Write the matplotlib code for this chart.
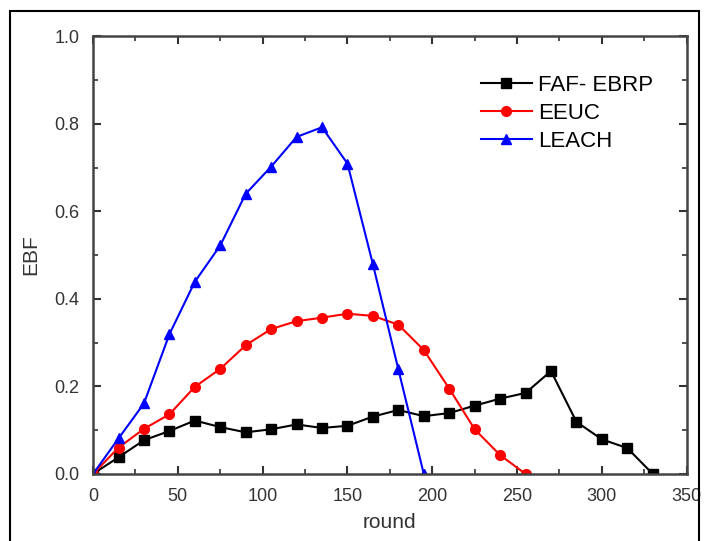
import matplotlib.pyplot as plt
from matplotlib.patches import Rectangle
from matplotlib.ticker import MultipleLocator

plt.rcParams['font.family'] = ['Liberation Sans', 'DejaVu Sans']

# dados
rounds_faf = [0, 15, 30, 45, 60, 75, 90, 105, 120, 135, 150, 165, 180, 195, 210, 225, 240, 255, 270, 285, 300, 315, 330]
ebf_faf = [0.0, 0.038, 0.077, 0.098, 0.122, 0.107, 0.095, 0.102, 0.113, 0.105, 0.110, 0.131, 0.146, 0.132, 0.139, 0.156, 0.172, 0.185, 0.235, 0.119, 0.079, 0.059, 0.0]

rounds_eeuc = [0, 15, 30, 45, 60, 75, 90, 105, 120, 135, 150, 165, 180, 195, 210, 225, 240, 255]
ebf_eeuc = [0.0, 0.060, 0.103, 0.136, 0.199, 0.240, 0.294, 0.331, 0.349, 0.357, 0.366, 0.361, 0.341, 0.283, 0.195, 0.102, 0.043, 0.0]

rounds_leach = [0, 15, 30, 45, 60, 75, 90, 105, 120, 135, 150, 165, 180, 195]
ebf_leach = [0.0, 0.081, 0.161, 0.319, 0.439, 0.522, 0.640, 0.702, 0.770, 0.792, 0.709, 0.479, 0.239, 0.0]

fig = plt.figure(figsize=(7.05, 5.41), dpi=100)
ax = fig.add_axes([0.132, 0.124, 0.842, 0.809])

# moldura externa
fig.patches.append(Rectangle((10 / 705, -0.05), 689 / 705, 1 - 11 / 541 + 0.05,
                             transform=fig.transFigure, fill=False,
                             edgecolor='black', linewidth=1.5))

ax.plot(rounds_faf, ebf_faf, '-s', color='black', lw=1.5, ms=6.5, label='FAF- EBRP')
ax.plot(rounds_eeuc, ebf_eeuc, '-o', color='#ff0000', lw=1.5, ms=7, label='EEUC')
ax.plot(rounds_leach, ebf_leach, '-^', color='#0000ff', lw=1.5, ms=7.5, label='LEACH')

ax.set_xlim(0, 350)
ax.set_ylim(0, 1.0)
ax.xaxis.set_major_locator(MultipleLocator(50))
ax.xaxis.set_minor_locator(MultipleLocator(25))
ax.yaxis.set_major_locator(MultipleLocator(0.2))
ax.yaxis.set_minor_locator(MultipleLocator(0.1))
ax.yaxis.set_major_formatter(plt.FormatStrFormatter('%.1f'))

ax.tick_params(which='both', direction='in', top=True, right=True, labelsize=13, colors='#333333')
ax.tick_params(which='major', length=6, width=1.5, pad=10)
ax.tick_params(which='minor', length=3.5, width=1.2)
for s in ax.spines.values():
    s.set_linewidth(1.8)
    s.set_color('#444444')

ax.set_xlabel('round', fontsize=15, color='#333333', labelpad=6)
ax.set_ylabel('EBF', fontsize=15, color='#333333', labelpad=10)

ax.legend(loc='upper left', bbox_to_anchor=(0.653, 0.911), frameon=False, fontsize=16,
          borderpad=0, borderaxespad=0,
          handlelength=2.3, handletextpad=0.3, labelspacing=0.3)

fig.savefig('out.png', dpi=100)
